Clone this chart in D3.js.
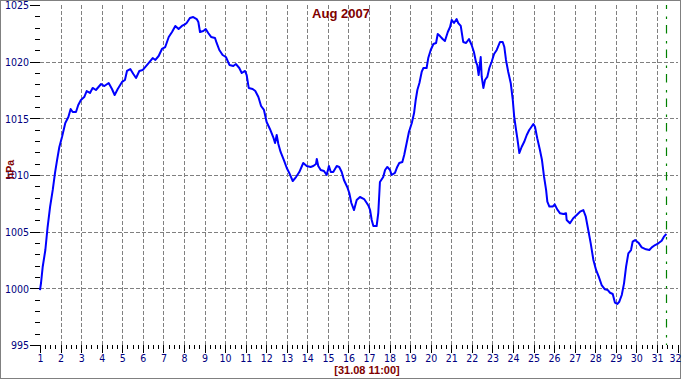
<!DOCTYPE html>
<html><head><meta charset="utf-8">
<script src="https://cdn.jsdelivr.net/npm/d3@7/dist/d3.min.js"></script>
<style>
html,body{margin:0;padding:0;background:#fff;}
svg{display:block;}
</style></head>
<body>
<svg id="c" width="682" height="380"></svg>
<script>
// ---- data (day of month, fractional ; pressure hPa) ----
const days = [1.00,1.05,1.13,1.26,1.37,1.49,1.62,1.73,1.83,1.94,2.07,2.23,2.38,2.49,2.59,2.75,2.86,2.99,3.15,3.27,3.43,3.56,3.72,3.97,4.13,4.34,4.50,4.63,4.78,4.99,5.13,5.23,5.39,5.54,5.67,5.83,5.99,6.24,6.48,6.61,6.77,6.93,7.09,7.26,7.42,7.58,7.74,7.90,8.07,8.13,8.29,8.45,8.62,8.70,8.78,8.94,9.06,9.18,9.32,9.51,9.59,9.72,9.88,10.04,10.21,10.40,10.53,10.69,10.81,10.97,11.05,11.15,11.34,11.47,11.62,11.75,11.89,12.02,12.18,12.34,12.43,12.51,12.59,12.70,12.86,13.00,13.12,13.29,13.45,13.61,13.80,13.97,14.16,14.29,14.42,14.46,14.53,14.65,14.81,14.94,15.05,15.14,15.26,15.43,15.55,15.67,15.78,15.94,16.04,16.14,16.27,16.40,16.56,16.76,16.89,16.98,17.05,17.13,17.21,17.37,17.45,17.53,17.69,17.78,17.89,18.02,18.10,18.26,18.37,18.47,18.62,18.71,18.83,18.94,19.08,19.19,19.27,19.35,19.45,19.56,19.64,19.80,19.88,20.00,20.13,20.26,20.34,20.45,20.58,20.69,20.83,20.94,21.02,21.13,21.26,21.34,21.46,21.58,21.72,21.86,21.99,22.10,22.20,22.26,22.33,22.43,22.48,22.56,22.64,22.75,22.85,22.96,23.08,23.21,23.37,23.50,23.58,23.66,23.77,23.89,23.99,24.06,24.15,24.21,24.31,24.42,24.54,24.67,24.79,24.86,24.99,25.07,25.18,25.31,25.41,25.51,25.61,25.67,25.77,25.93,26.03,26.15,26.29,26.45,26.58,26.61,26.77,26.93,27.10,27.26,27.42,27.54,27.66,27.78,27.91,28.04,28.17,28.31,28.47,28.61,28.72,28.85,28.96,29.07,29.17,29.29,29.40,29.50,29.61,29.74,29.82,29.94,30.10,30.26,30.47,30.63,30.75,30.91,31.07,31.23,31.34,31.46];
const pressure = [999.85,1000.47,1001.88,1003.38,1005.41,1007.18,1008.68,1010.18,1011.32,1012.47,1013.35,1014.59,1015.12,1015.82,1015.56,1015.56,1016.18,1016.62,1016.88,1017.41,1017.24,1017.68,1017.50,1018.03,1017.85,1018.12,1017.59,1017.06,1017.59,1018.21,1018.38,1019.18,1019.35,1018.91,1018.56,1019.18,1019.26,1019.79,1020.32,1020.15,1020.50,1021.12,1021.29,1022.18,1022.62,1023.15,1022.88,1023.15,1023.32,1023.41,1023.85,1023.94,1023.76,1023.50,1022.62,1022.71,1022.88,1022.53,1022.18,1022.09,1021.65,1021.03,1020.59,1020.41,1019.71,1019.62,1019.79,1019.44,1019.00,1019.18,1018.82,1017.68,1017.59,1017.41,1016.88,1016.09,1015.74,1014.68,1014.06,1013.35,1012.82,1013.53,1012.74,1012.03,1011.32,1010.62,1010.18,1009.47,1009.82,1010.26,1011.06,1010.79,1010.71,1010.79,1010.97,1011.41,1010.79,1010.44,1010.35,1010.00,1010.79,1010.26,1010.26,1010.79,1010.71,1010.26,1009.56,1008.94,1008.41,1007.53,1006.91,1007.79,1008.06,1007.88,1007.53,1007.26,1006.91,1006.03,1005.50,1005.50,1006.65,1009.38,1009.82,1010.44,1010.71,1010.44,1010.00,1010.18,1010.71,1011.06,1011.15,1011.76,1012.82,1013.79,1014.59,1015.47,1016.62,1017.50,1018.12,1019.09,1019.44,1019.44,1020.32,1021.03,1021.56,1021.65,1022.44,1022.26,1022.00,1021.82,1022.62,1023.06,1023.68,1023.41,1023.76,1023.41,1023.15,1021.74,1021.65,1022.00,1021.47,1020.85,1019.97,1019.71,1018.82,1020.41,1018.65,1017.68,1018.38,1018.65,1019.44,1019.97,1020.68,1021.03,1021.74,1021.74,1021.29,1020.15,1019.09,1018.12,1016.62,1015.12,1013.97,1013.26,1011.94,1012.47,1012.91,1013.53,1013.97,1014.15,1014.50,1014.26,1013.24,1012.21,1011.32,1009.85,1008.68,1007.65,1007.21,1007.21,1007.41,1006.97,1006.62,1006.56,1006.62,1006.03,1005.74,1006.18,1006.47,1006.76,1006.91,1006.32,1005.15,1003.97,1002.50,1001.62,1001.03,1000.29,999.91,999.85,999.61,999.50,998.73,998.62,998.82,999.41,1000.44,1001.91,1003.09,1003.38,1004.12,1004.26,1004.03,1003.62,1003.44,1003.38,1003.62,1003.82,1003.97,1004.20,1004.56,1004.79];

const xTickDays = d3.range(1, 33);                 // 1..32
const xMinorDays = d3.range(1, 32, 0.25).filter(d => d % 1 !== 0);
const yMajorTicks = [995, 1000, 1005, 1010, 1015, 1020, 1025];
const yMinorTicks = d3.range(995, 1026, 1).filter(v => v % 5 !== 0);
const yGridTicks = [1000, 1005, 1010, 1015, 1020];
const titleText = "Aug 2007";
const yUnit = "hPa";
const currentLabel = "[31.08 11:00]";
const currentDay = 31 + 11/24;

// ---- layout ----
const svg = d3.select("#c");
const x = d3.scaleLinear().domain([1, 32]).range([40, 677.5]);
const y = d3.scaleLinear().domain([995, 1025]).range([345, 5]);
const navy = "#000080", darkRed = "#800000";
const tickFont = "'Liberation Sans Narrow','DejaVu Sans Condensed','Liberation Sans',Arial,sans-serif";

// border
svg.append("rect").attr("x", 0.5).attr("y", 0.5).attr("width", 680).attr("height", 378)
  .attr("fill", "#fff").attr("stroke", "#808080");

// grid
const grid = svg.append("g").attr("stroke", "#808080").attr("stroke-width", 1)
  .attr("stroke-dasharray", "4,2").attr("shape-rendering", "crispEdges");
grid.selectAll("line.h").data(yGridTicks).join("line")
  .attr("x1", x(1)).attr("x2", x(32))
  .attr("y1", d => Math.round(y(d)) + 0.5).attr("y2", d => Math.round(y(d)) + 0.5);
grid.selectAll("line.v").data(xTickDays.slice(1, 31)).join("line")
  .attr("x1", d => Math.round(x(d)) + 0.5).attr("x2", d => Math.round(x(d)) + 0.5)
  .attr("y1", y(1025)).attr("y2", y(995));

// current time marker
svg.append("line")
  .attr("x1", Math.round(x(currentDay)) + 0.5).attr("x2", Math.round(x(currentDay)) + 0.5)
  .attr("y1", y(1025)).attr("y2", y(995))
  .attr("stroke", "#008000").attr("stroke-width", 1.2)
  .attr("stroke-dasharray", "8.5,7.5,2.5,6").attr("stroke-dashoffset", 4.5);

// axes
function styleAxis(g) {
  g.select(".domain").remove();
  g.selectAll(".tick line").attr("stroke", "#000").attr("shape-rendering", "crispEdges");
  g.selectAll(".tick text").attr("fill", navy).attr("font-family", tickFont).attr("font-size", "10.5px");
}
svg.append("g").attr("transform", "translate(40,0)")
  .call(d3.axisLeft(y).tickValues(yMinorTicks).tickSize(5).tickFormat(""))
  .call(styleAxis);
svg.append("g").attr("transform", "translate(40,0)")
  .call(d3.axisLeft(y).tickValues(yMajorTicks).tickSize(10).tickPadding(1).tickFormat(d3.format("d")))
  .call(styleAxis)
  .call(g => g.selectAll(".tick text").attr("dy", "0.35em"));
svg.append("g").attr("transform", "translate(0,345)")
  .call(d3.axisBottom(x).tickValues(xMinorDays).tickSize(4).tickFormat(""))
  .call(styleAxis);
svg.append("g").attr("transform", "translate(0,345)")
  .call(d3.axisBottom(x).tickValues(xTickDays).tickSize(8).tickPadding(2).tickFormat(d3.format("d")))
  .call(styleAxis)
  .call(g => g.selectAll(".tick text").filter(d => d === 32)
    .attr("text-anchor", "end").attr("dx", "3.5px"));

// line
svg.append("path")
  .datum(days.map((d, i) => [d, pressure[i]]))
  .attr("fill", "none").attr("stroke", "#0000ff").attr("stroke-width", 2)
  .attr("stroke-linejoin", "round")
  .attr("d", d3.line().x(d => x(d[0])).y(d => y(d[1])));

// texts
svg.append("text").text(titleText)
  .attr("x", 341).attr("y", 17.5).attr("text-anchor", "middle")
  .attr("font-family", "'Liberation Sans',Arial,sans-serif").attr("font-weight", "bold")
  .attr("font-size", "13px").attr("fill", darkRed);
svg.append("text").text(yUnit)
  .attr("transform", "translate(14,169.5) rotate(-90)").attr("text-anchor", "middle")
  .attr("font-family", "'Liberation Sans',Arial,sans-serif").attr("font-weight", "bold")
  .attr("font-size", "10.5px").attr("fill", darkRed);
svg.append("text").text(currentLabel)
  .attr("x", 367).attr("y", 374).attr("text-anchor", "middle")
  .attr("font-family", "'Liberation Sans',Arial,sans-serif").attr("font-weight", "bold")
  .attr("font-size", "11px").attr("fill", darkRed);
</script>
</body></html>
